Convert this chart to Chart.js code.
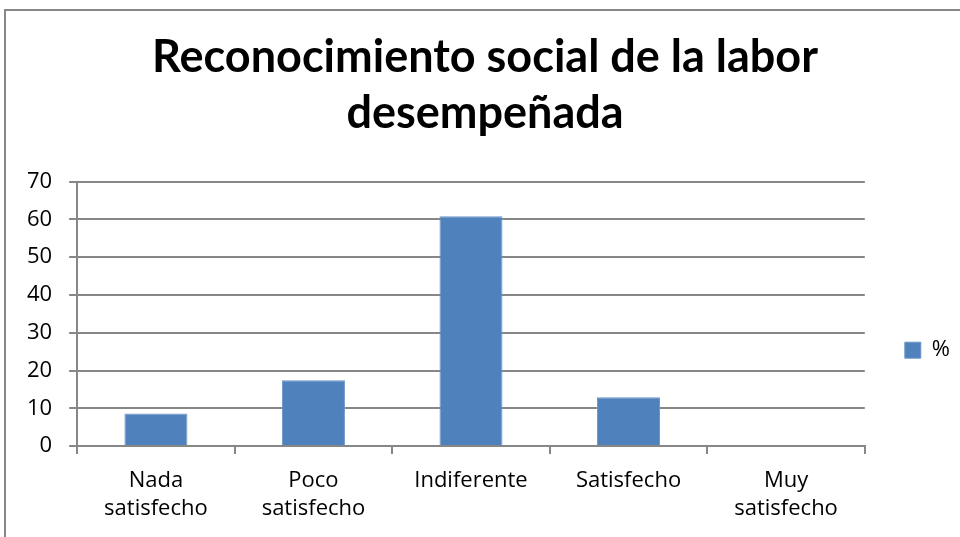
<!DOCTYPE html>
<html lang="es">
<head>
<meta charset="utf-8">
<title>Reconocimiento social de la labor desempeñada</title>
<script src="https://cdn.jsdelivr.net/npm/chart.js@4.4.1/dist/chart.umd.min.js"></script>
<style>
  html, body { margin: 0; padding: 0; background: #fff; overflow: hidden; }
  #marco {
    position: absolute; left: 4px; top: 9px;
    width: 1000px; height: 600px;
    border: 2px solid #878787; box-sizing: border-box;
  }
  #grafico { position: absolute; left: 0; top: 0; }
</style>
</head>
<body>
<div id="marco"></div>
<canvas id="grafico" width="960" height="537"></canvas>
<script>
// Datos
const categorias = [
  ["Nada", "satisfecho"],
  ["Poco", "satisfecho"],
  "Indiferente",
  "Satisfecho",
  ["Muy", "satisfecho"],
];
const porcentajes = [8.6, 17.4, 60.8, 12.9, 0];
const nombreSerie = "%";
const titulo = ["Reconocimiento social de la labor", "desempeñada"];

const fuenteTitulo = "Lato, 'Open Sans', sans-serif";
const fuente = "'Open Sans', 'Noto Sans', sans-serif";
const gris = "#878787";

new Chart(document.getElementById("grafico").getContext("2d"), {
  type: "bar",
  data: {
    labels: categorias,
    datasets: [
      {
        label: nombreSerie,
        data: porcentajes,
        backgroundColor: "#4F81BD",
        borderColor: "#6E97C8",
        borderWidth: 1,
        barPercentage: 0.4,
        categoryPercentage: 1,
      },
    ],
  },
  options: {
    responsive: false,
    animation: false,
    layout: { padding: { left: 10, right: 0, top: 0, bottom: 1 } },
    plugins: {
      tooltip: { enabled: false },
      title: {
        display: true,
        text: titulo,
        color: "#000",
        font: { family: fuenteTitulo, size: 45, weight: "bold", lineHeight: 1.25 },
        padding: { top: 29, bottom: 40 },
      },
      legend: {
        position: "right",
        title: { display: true, text: "", padding: { top: 0, bottom: 150 } },
        labels: {
          boxWidth: 16,
          boxHeight: 16,
          color: "#000",
          font: { family: fuente, size: 22 },
          padding: 40,
        },
      },
    },
    scales: {
      x: {
        offset: true,
        grid: {
          offset: true,
          drawOnChartArea: false,
          drawTicks: true,
          tickLength: 8,
          color: gris,
          lineWidth: 2,
        },
        border: { color: gris, width: 2 },
        ticks: {
          color: "#000",
          maxRotation: 0,
          padding: 13,
          font: { family: fuente, size: 22, lineHeight: 1.27 },
        },
      },
      y: {
        min: 0,
        max: 70,
        ticks: {
          stepSize: 10,
          color: "#000",
          padding: 17,
          font: { family: fuente, size: 22 },
        },
        grid: { color: gris, lineWidth: 2, tickLength: 8 },
        border: { color: gris, width: 2 },
      },
    },
  },
});
</script>
</body>
</html>
